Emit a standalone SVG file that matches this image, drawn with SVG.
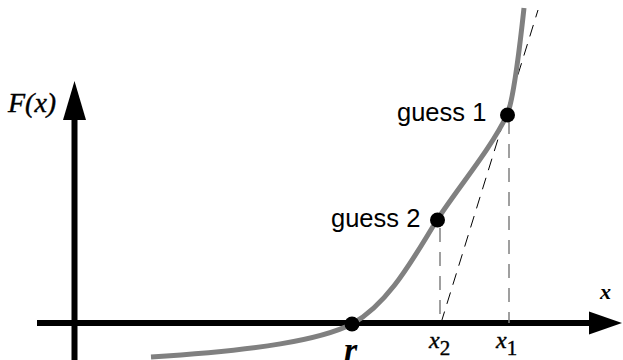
<svg xmlns="http://www.w3.org/2000/svg" width="623" height="360" viewBox="0 0 623 360">
<style>
.axis{stroke:#000;stroke-width:6;fill:none}
.curve{stroke:#808080;stroke-width:5;fill:none;stroke-linecap:butt}
.vdash{stroke:#808080;stroke-width:1.5;stroke-dasharray:14 10;fill:none}
.tdash{stroke:#000;stroke-width:1;stroke-dasharray:12 8;fill:none}
.dot{fill:#000}
.lbl{font-family:"Liberation Sans",Arial,sans-serif;font-size:25.5px;fill:#000}
.ser{font-family:"Liberation Serif","Times New Roman",serif;font-style:italic;fill:#000}
</style>
<g id="axes">
<line class="axis" x1="37" y1="323" x2="592" y2="323"/>
<polygon points="589,311.5 622,323 589,334.5" fill="#000"/>
<line class="axis" x1="74.5" y1="360" x2="74.5" y2="117"/>
<polygon points="63,120 74.5,81 86,120" fill="#000"/>
<text class="ser" x="8" y="112" font-size="28" stroke="#000" stroke-width="0.4">F(x)</text>
<text class="ser" x="600" y="299" font-size="22" font-weight="bold">x</text>
</g>
<g id="connectors">
<line class="tdash" x1="441" y1="323" x2="538" y2="10"/>
<line class="vdash" x1="440" y1="228" x2="440" y2="323"/>
<line class="vdash" x1="509" y1="120" x2="509" y2="323"/>
</g>
<g id="curve">
<path class="curve" d="M151,357 C260,350 320,340 352,324 C390,303 415,255 437,220 C460,185 490,150 507,115 C513,102 520,45 524,8"/>
</g>
<g id="root">
<circle class="dot" cx="352" cy="324" r="7.5"/>
<text class="ser" x="344" y="361" font-size="34" font-weight="bold">r</text>
</g>
<g id="guess2">
<circle class="dot" cx="437.5" cy="220" r="7.5"/>
<text class="lbl" x="331" y="227">guess 2</text>
<text class="ser" x="429" y="348" font-size="24" stroke="#000" stroke-width="0.4">x<tspan font-style="normal" font-size="21" dy="7">2</tspan></text>
</g>
<g id="guess1">
<circle class="dot" cx="507.5" cy="115" r="7.5"/>
<text class="lbl" x="397" y="121">guess 1</text>
<text class="ser" x="496" y="348" font-size="24" stroke="#000" stroke-width="0.4">x<tspan font-style="normal" font-size="21" dy="7">1</tspan></text>
</g>
</svg>
